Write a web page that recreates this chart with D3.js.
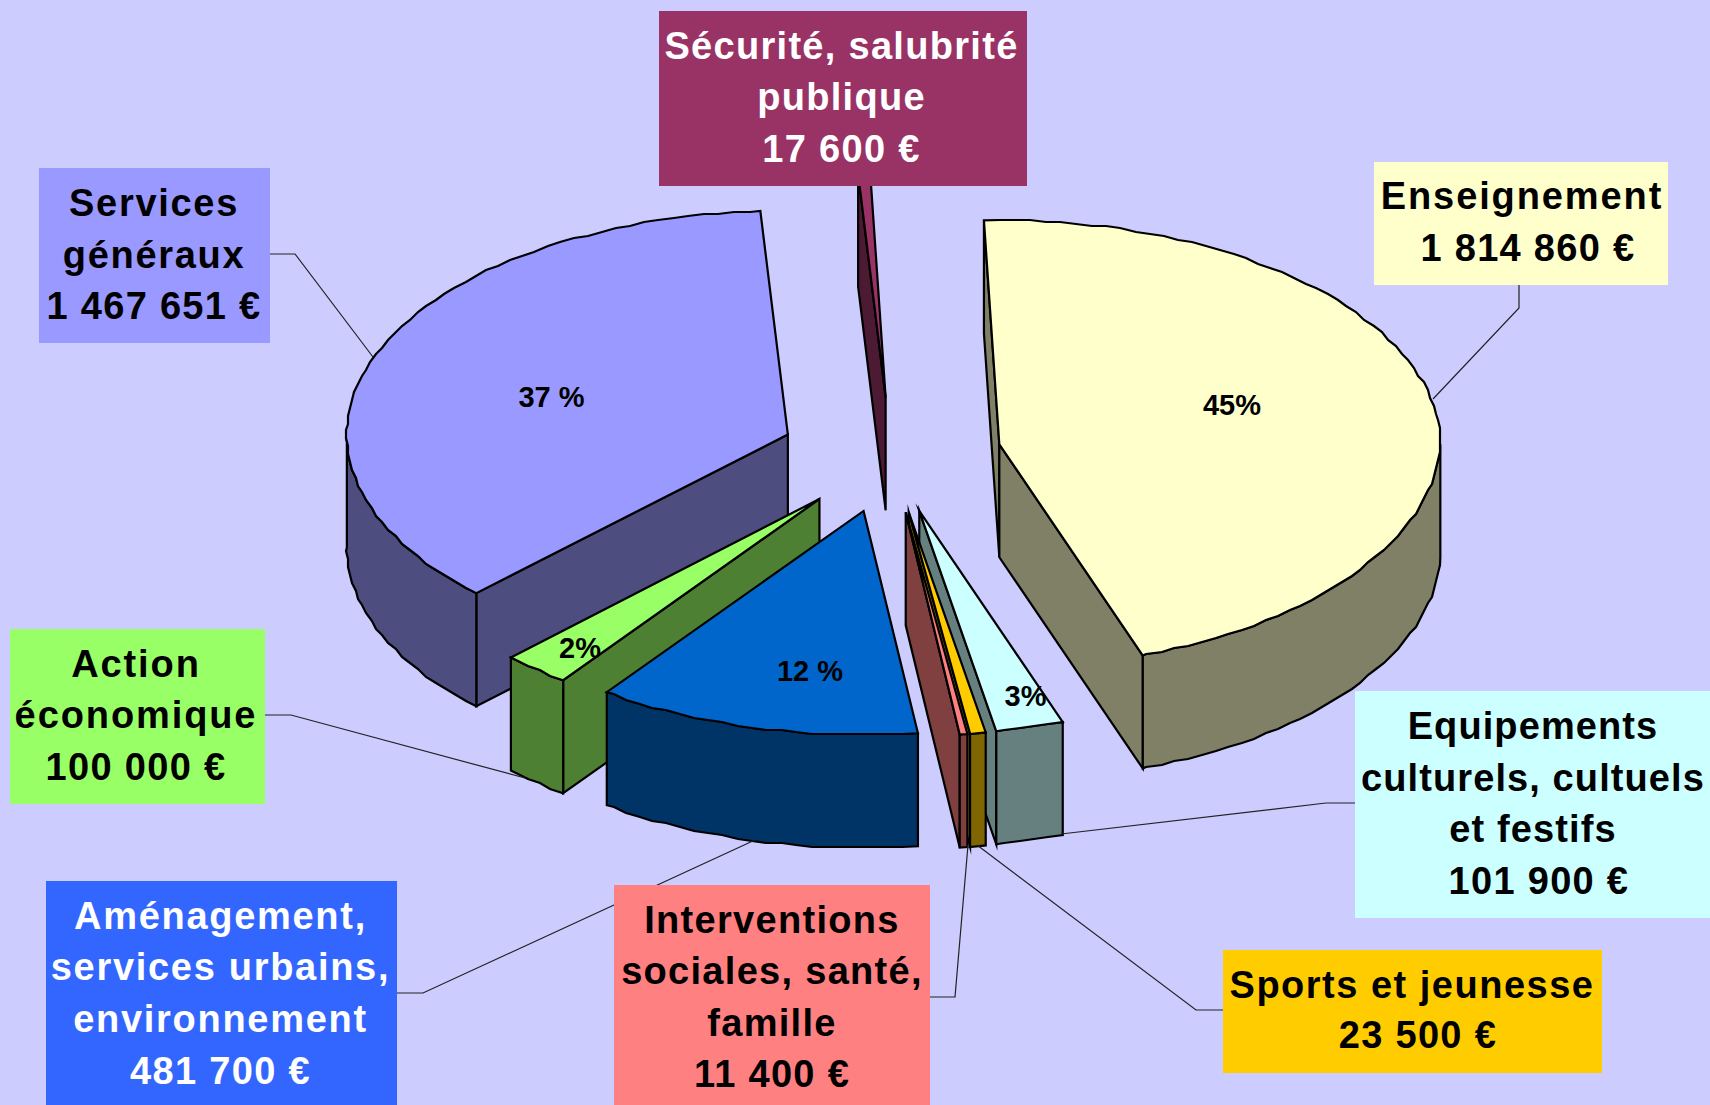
<!DOCTYPE html>
<html lang="fr">
<head>
<meta charset="utf-8">
<title>Budget</title>
<script src="https://cdn.jsdelivr.net/npm/d3@7"></script>
<style>
  html, body { margin: 0; padding: 0; background: #ccccff; overflow: hidden; }
  svg { display: block; }
  text { font-family: "Liberation Sans", Arial, sans-serif; font-weight: bold; white-space: pre; }
</style>
</head>
<body>
<div id="chart"></div>
<script>
// valeurs, dans le sens horaire depuis le haut
const categories = ['Enseignement', 'Equipements', 'Sports', 'Interventions', 'Amenagement', 'Action', 'Services', 'Securite']
const values = [1814860, 101900, 23500, 11400, 481700, 100000, 1467651, 17600]
const percents = ['45%', '3%', '', '', '12 %', '2%', '37 %', '']
const labels = [
  ['Enseignement', ' 1 814 860 €'],
  ['Equipements', 'culturels, cultuels', 'et festifs', ' 101 900 €'],
  ['Sports et jeunesse', ' 23 500 €'],
  ['Interventions', 'sociales, santé,', 'famille', '11 400 €'],
  ['Aménagement,', 'services urbains,', 'environnement', '481 700 €'],
  ['Action', 'économique', '100 000 €'],
  ['Services', 'généraux', '1 467 651 €'],
  ['Sécurité, salubrité', 'publique', '17 600 €']
]

const topColors = ['#ffffcc', '#ccffff', '#ffcc00', '#ff8080', '#0066cc', '#99ff66', '#9999ff', '#993366']
const sideColors = ['#808066', '#668080', '#806600', '#804040', '#003366', '#4d8033', '#4d4d80', '#4d1a33']
const boxColors = ['#ffffcc', '#ccffff', '#ffcc00', '#ff8080', '#3366ff', '#99ff66', '#9999ff', '#993366']
const textColors = ['#000', '#000', '#000', '#000', '#fff', '#000', '#000', '#fff']

// ordre de dessin, du fond vers l'avant
const drawOrder = [7, 6, 0, 5, 4, 1, 2, 3]

// mise en page : boite [x0, y0, x1, y1], centre du texte, lignes de base
const boxes = [
  [1374, 162, 1668, 285], [1355, 691, 1710, 918], [1223, 950, 1602, 1073], [614, 885, 930, 1105],
  [46, 881, 397, 1105], [10, 629, 265, 804], [39, 168, 270, 343], [659, 11, 1027, 186]
]
const textX = [1522, 1533, 1412, 772, 220.5, 136, 154, 841.5]
const baselines = [
  [209, 261], [739, 791, 842, 894], [998, 1048], [933, 984, 1036, 1087],
  [929, 980, 1032, 1084], [677, 728, 780], [216, 268, 319], [59, 110, 162]
]
const letterSpacing = [1.9, 1.1, 1.5, 1.3, 1.7, 1.9, 1.7, 1.3]
const percentPos = [[1232, 415], [1025.5, 706], null, null, [810, 681], [580, 658], [551.5, 407], null]
const leaders = [
  [[1519, 285], [1519, 308], [1433, 399]],
  [[1355, 803], [1326, 803], [1061, 834]],
  [[1223, 1010], [1196, 1010], [977, 845]],
  [[930, 997], [955, 997], [968, 845]],
  [[397, 993], [423, 993], [755, 840]],
  [[265, 715], [291, 715], [525, 778]],
  [[270, 254], [295, 254], [373, 357]]
]
// le bord avant est un peu resserre en x selon les parts (pixels)
const frontPinch = [10, 10, 10, 8, 5, 6, 0, 0]

const width = 1710
const height = 1105
const cx = 891
const cy = 455
const rx = 441
const ry = 224
const depth = 113
const explodeX = 0.25
const explodeY = 0.258
const grid = 2
const fontSize = 38

const deg = Math.PI / 180
const x = d3.scaleLinear().domain([-1, 1]).range([cx - rx, cx + rx])
const y = d3.scaleLinear().domain([1, -1]).range([cy - ry, cy + ry])

const pie = d3.pie().sort(null).startAngle(-2 * deg).endAngle(358 * deg)
const slices = pie(values)

const svg = d3.select('#chart').append('svg')
  .attr('width', width)
  .attr('height', height)

svg.append('rect').attr('width', width).attr('height', height).attr('fill', '#ccccff')

const line = d3.line()
const snap = v => Math.round(v / grid) * grid

// point de la part s a l'angle a, rayon r
function point(s, a, r, z) {
  const mid = (s.startAngle + s.endAngle) / 2
  const pinch = frontPinch[s.index] * r * Math.sin(a) * Math.max(0, -Math.cos(a))
  return [
    x(explodeX * Math.sin(mid) + r * Math.sin(a)) - pinch,
    y(explodeY * Math.cos(mid) + r * Math.cos(a)) + z
  ]
}

// bord exterieur un peu crenele, comme dans l'original
function arcPoints(s, a0, a1, z) {
  const pts = d3.range(a0, a1, 2 * deg).concat(a1).map(a => point(s, a, 1, 0))
  return pts.map((p, i) => (i === 0 || i === pts.length - 1)
    ? [p[0], p[1] + z]
    : [snap(p[0]), snap(p[1]) + z])
}

// une face radiale se voit si le bas de l'ecran est du cote oppose a l'interieur
function faceVisible(s, a) {
  const apex = point(s, 0, 0, 0)
  const end = point(s, a, 1, 0)
  const inner = point(s, (s.startAngle + s.endAngle) / 2, 1, 0)
  const dx = end[0] - apex[0]
  const dy = end[1] - apex[1]
  const sideInner = dx * (inner[1] - apex[1]) - dy * (inner[0] - apex[0])
  return sideInner * dx < 0
}

const pieG = svg.append('g')
  .attr('stroke', '#000')
  .attr('stroke-width', 2.2)
  .attr('stroke-linejoin', 'miter')
  .attr('stroke-miterlimit', 8)

drawOrder.forEach(i => {
  const s = slices[i]
  const g = pieG.append('g').attr('class', 'slice')
  const apex = point(s, 0, 0, 0)
  const apexLow = point(s, 0, 0, depth)

  // faces radiales visibles
  ;[s.startAngle, s.endAngle].filter(a => faceVisible(s, a)).forEach(a => {
    g.append('path')
      .attr('d', line([apex, point(s, a, 1, 0), point(s, a, 1, depth), apexLow]) + 'Z')
      .attr('fill', sideColors[i])
  })

  // face courbe, seulement la partie vers l'avant
  const a0 = Math.max(s.startAngle, 90 * deg)
  const a1 = Math.min(s.endAngle, 270 * deg)
  if (a0 < a1) {
    const upper = arcPoints(s, a0, a1, 0)
    const lower = arcPoints(s, a0, a1, depth).reverse()
    g.append('path')
      .attr('d', line(upper.concat(lower)) + 'Z')
      .attr('fill', sideColors[i])
  }

  // dessus
  g.append('path')
    .attr('d', line([apex].concat(arcPoints(s, s.startAngle, s.endAngle, 0))) + 'Z')
    .attr('fill', topColors[i])
})

// pourcentages
svg.append('g').selectAll('text')
  .data(percents.map((p, i) => ({ p, pos: percentPos[i] })).filter(d => d.pos))
  .join('text')
  .attr('x', d => d.pos[0])
  .attr('y', d => d.pos[1])
  .attr('text-anchor', 'middle')
  .attr('font-size', 29)
  .attr('fill', '#000')
  .text(d => d.p)

// traits de rappel
svg.append('g').selectAll('path')
  .data(leaders)
  .join('path')
  .attr('d', d => line(d))
  .attr('fill', 'none')
  .attr('stroke', '#222')
  .attr('stroke-width', 1.2)

// etiquettes
const labelG = svg.append('g').selectAll('g')
  .data(labels.map((lines, i) => ({ lines, i })))
  .join('g')

labelG.append('rect')
  .attr('x', d => boxes[d.i][0])
  .attr('y', d => boxes[d.i][1])
  .attr('width', d => boxes[d.i][2] - boxes[d.i][0])
  .attr('height', d => boxes[d.i][3] - boxes[d.i][1])
  .attr('fill', d => boxColors[d.i])

labelG.each(function(d) {
  d3.select(this).selectAll('text')
    .data(d.lines)
    .join('text')
    .attr('x', textX[d.i])
    .attr('y', (l, k) => baselines[d.i][k])
    .attr('text-anchor', 'middle')
    .attr('font-size', fontSize)
    .attr('letter-spacing', l => l.includes('€') ? 1.3 : letterSpacing[d.i])
    .attr('fill', textColors[d.i])
    .text(l => l)
})
</script>
</body>
</html>
